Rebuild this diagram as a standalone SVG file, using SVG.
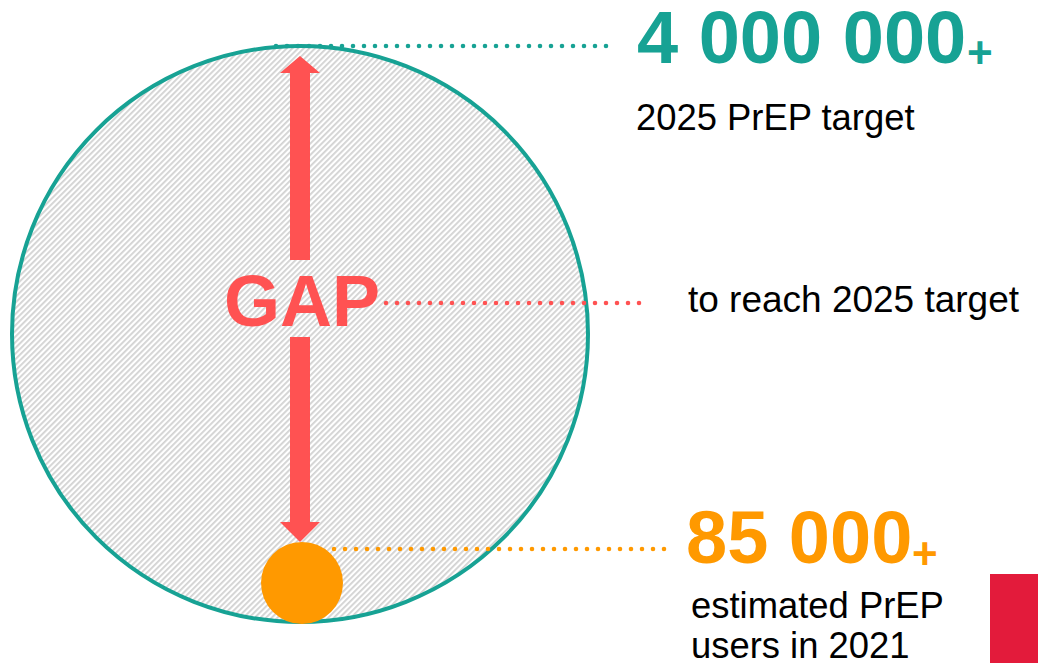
<svg xmlns="http://www.w3.org/2000/svg" width="1038" height="663" viewBox="0 0 1038 663">
<style>
.dot{fill:none;stroke-width:4.6;stroke-linecap:round;stroke-dasharray:0 11}
.big{font-family:"Liberation Sans",Arial,sans-serif;font-weight:bold;font-size:74px}
.plus{font-family:"Liberation Sans",Arial,sans-serif;font-weight:bold;font-size:44px}
.lbl{font-family:"Liberation Sans",Arial,sans-serif;font-size:36.4px;fill:#000}
</style>
<defs>
<pattern id="hatch" patternUnits="userSpaceOnUse" width="4" height="4" patternTransform="rotate(45)">
<rect width="4" height="4" fill="#ffffff"/>
<rect width="1.8" height="4" fill="#d2d2d2"/>
</pattern>
</defs>
<rect width="1038" height="663" fill="#ffffff"/>
<g id="big-circle">
<circle cx="300" cy="334" r="288" fill="url(#hatch)" stroke="#17a294" stroke-width="4"/>
</g>
<g id="connectors">
<line class="dot" x1="276" y1="46" x2="617" y2="46" stroke="#17a294"/>
<line class="dot" x1="386" y1="303" x2="648" y2="303" stroke="#ff5252"/>
<line class="dot" x1="334" y1="549" x2="673" y2="549" stroke="#ff9900"/>
</g>
<g id="gap-arrow" fill="#ff5252">
<polygon points="300,56 320,73 310,73 310,260 290,260 290,73 280,73"/>
<polygon points="290,337 310,337 310,522 320,522 300,542 280,522 290,522"/>
</g>
<g id="small-circle">
<circle cx="302" cy="583" r="41" fill="#ff9900"/>
</g>
<g id="gap-label">
<text x="224" y="326" font-family="'Liberation Sans',Arial,sans-serif" font-weight="bold" font-size="72" fill="#ff5252">GAP</text>
</g>
<g id="target">
<text class="big" x="637" y="63" fill="#17a294">4 000 000</text>
<text class="plus" x="967" y="68" fill="#17a294">+</text>
<text class="lbl" x="636" y="130">2025 PrEP target</text>
</g>
<g id="gap-text">
<text class="lbl" x="688" y="312" textLength="331" lengthAdjust="spacingAndGlyphs">to reach 2025 target</text>
</g>
<g id="users">
<text class="big" x="686" y="563" fill="#ff9900">85 000</text>
<text class="plus" x="912" y="569" fill="#ff9900">+</text>
<text class="lbl" x="691" y="618">estimated PrEP</text>
<text class="lbl" x="691" y="658">users in 2021</text>
</g>
<g id="red-block">
<rect x="990" y="574" width="48" height="89" fill="#e31b3b"/>
</g>
</svg>
